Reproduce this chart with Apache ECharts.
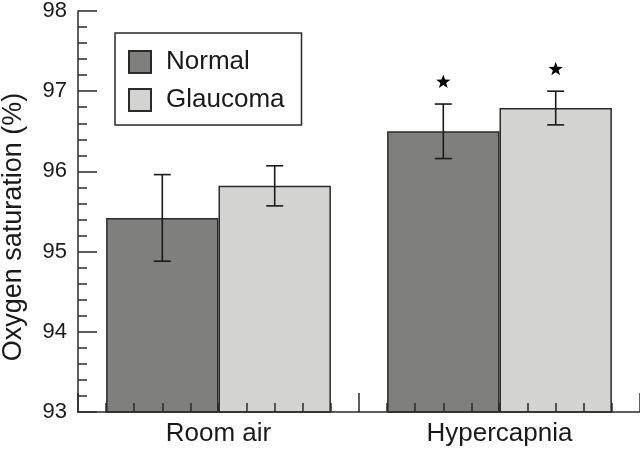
<!DOCTYPE html>
<html>
<head>
<meta charset="utf-8">
<script src="https://cdn.jsdelivr.net/npm/echarts@6/dist/echarts.min.js"></script>
<style>
html,body{margin:0;padding:0;background:#fff;}
#c{width:640px;height:449px;}
</style>
</head>
<body>
<div id="c"></div>
<script>
const categories = ['Room air', 'Hypercapnia'];
const seriesNames = ['Normal', 'Glaucoma'];
const normalMeans = [95.42, 96.50];
const normalLow = [94.88, 96.16];
const normalHigh = [95.96, 96.84];
const glaucomaMeans = [95.82, 96.79];
const glaucomaLow = [95.57, 96.58];
const glaucomaHigh = [96.07, 97.00];
const normalSignificant = [false, true];
const glaucomaSignificant = [false, true];
const yTicks = [93, 94, 95, 96, 97, 98];
const yTitle = 'Oxygen saturation (%)';

const FONT = '"Liberation Sans", Arial, Helvetica, sans-serif';
const INK = '#1a1a1a';
const colors = ['#7f807e', '#d3d4d2'];

const chart = echarts.init(document.getElementById('c'), null, {renderer: 'canvas'});

function errSeries(idx, low, high) {
  const sign = idx === 0 ? -1 : 1;
  return {
    type: 'custom',
    name: seriesNames[idx] + ' error',
    xAxisIndex: 0, yAxisIndex: 0,
    z: 5,
    data: low.map((l, i) => [i, l, high[i]]),
    renderItem: function (params, api) {
      const ci = api.value(0);
      const band = api.size([1, 0])[0];
      const off = sign * 0.2 * band;
      const pHi = api.coord([ci, api.value(2)]);
      const pLo = api.coord([ci, api.value(1)]);
      const x = pHi[0] + off;
      const cap = 8.5;
      const st = {stroke: INK, lineWidth: 1.6};
      return {
        type: 'group',
        children: [
          {type: 'line', shape: {x1: x, y1: pHi[1], x2: x, y2: pLo[1]}, style: st},
          {type: 'line', shape: {x1: x - cap, y1: pHi[1], x2: x + cap, y2: pHi[1]}, style: st},
          {type: 'line', shape: {x1: x - cap, y1: pLo[1], x2: x + cap, y2: pLo[1]}, style: st}
        ]
      };
    }
  };
}

function starSeries(idx, high, sig) {
  const sign = idx === 0 ? -1 : 1;
  const data = [];
  sig.forEach((s, i) => { if (s) data.push([i, high[i]]); });
  return {
    type: 'custom',
    name: seriesNames[idx] + ' star',
    xAxisIndex: 0, yAxisIndex: 0,
    z: 5,
    data: data,
    renderItem: function (params, api) {
      const ci = api.value(0);
      const band = api.size([1, 0])[0];
      const p = api.coord([ci, api.value(1)]);
      const cx = p[0] + sign * 0.2 * band;
      const cy = p[1] - 22;
      const pts = [];
      for (let k = 0; k < 10; k++) {
        const a = -Math.PI / 2 + k * Math.PI / 5;
        const r = k % 2 === 0 ? 7.5 : 3;
        pts.push([cx + r * Math.cos(a), cy + r * Math.sin(a)]);
      }
      return {type: 'polygon', shape: {points: pts}, style: {fill: '#000'}};
    }
  };
}

const option = {
  backgroundColor: '#ffffff',
  animation: false,
  textStyle: {fontFamily: FONT},
  grid: {left: 78, right: 0, top: 7, bottom: 37, containLabel: false},
  legend: {
    orient: 'vertical',
    left: 115, top: 33,
    padding: [16, 17, 12, 13],
    itemWidth: 22, itemHeight: 22, itemGap: 12,
    borderColor: '#2a2a2a', borderWidth: 1.5,
    data: seriesNames,
    icon: 'rect',
    textStyle: {fontFamily: FONT, fontSize: 26, color: INK, padding: [0, 0, 0, 10]}
  },
  xAxis: [
    {
      type: 'category',
      data: categories,
      boundaryGap: true,
      axisLine: {show: true, lineStyle: {color: '#2a2a2a', width: 1.5}},
      axisTick: {show: false},
      axisLabel: {fontFamily: FONT, fontSize: 26, color: INK, margin: 9},
      splitLine: {show: false},
      z: 10
    },
    {
      type: 'value',
      min: 0, max: 2, interval: 1,
      position: 'bottom',
      axisLine: {show: false},
      axisLabel: {show: false},
      axisTick: {show: true, inside: true, length: 19, lineStyle: {color: '#2a2a2a', width: 1.5}},
      minorTick: {show: true, splitNumber: 10, length: 9, lineStyle: {color: '#2a2a2a', width: 1.5}},
      splitLine: {show: false},
      minorSplitLine: {show: false},
      z: 10
    }
  ],
  yAxis: {
    type: 'value',
    min: yTicks[0], max: yTicks[yTicks.length - 1], interval: 1,
    axisLine: {show: true, lineStyle: {color: '#2a2a2a', width: 1.5}},
    axisTick: {show: true, inside: true, length: 19, lineStyle: {color: '#2a2a2a', width: 1.5}},
    minorTick: {show: true, splitNumber: 5, length: 9, lineStyle: {color: '#2a2a2a', width: 1.5}},
    axisLabel: {fontFamily: FONT, fontSize: 22, color: INK, margin: 11},
    splitLine: {show: false},
    z: 10
  },
  graphic: [{
    type: 'text',
    x: 14, y: 227,
    rotation: Math.PI / 2,
    style: {text: yTitle, font: '27px ' + FONT, fill: INK, textAlign: 'center', textVerticalAlign: 'middle'}
  }],
  series: [
    {
      type: 'bar', name: seriesNames[0], data: normalMeans,
      xAxisIndex: 0, yAxisIndex: 0,
      barGap: '0%', barCategoryGap: '20%',
      itemStyle: {color: colors[0], borderColor: '#2a2a2a', borderWidth: 1.5}
    },
    {
      type: 'bar', name: seriesNames[1], data: glaucomaMeans,
      xAxisIndex: 0, yAxisIndex: 0,
      barGap: '0%', barCategoryGap: '20%',
      itemStyle: {color: colors[1], borderColor: '#2a2a2a', borderWidth: 1.5}
    },
    errSeries(0, normalLow, normalHigh),
    errSeries(1, glaucomaLow, glaucomaHigh),
    starSeries(0, normalHigh, normalSignificant),
    starSeries(1, glaucomaHigh, glaucomaSignificant)
  ]
};
chart.setOption(option);
</script>
</body>
</html>
